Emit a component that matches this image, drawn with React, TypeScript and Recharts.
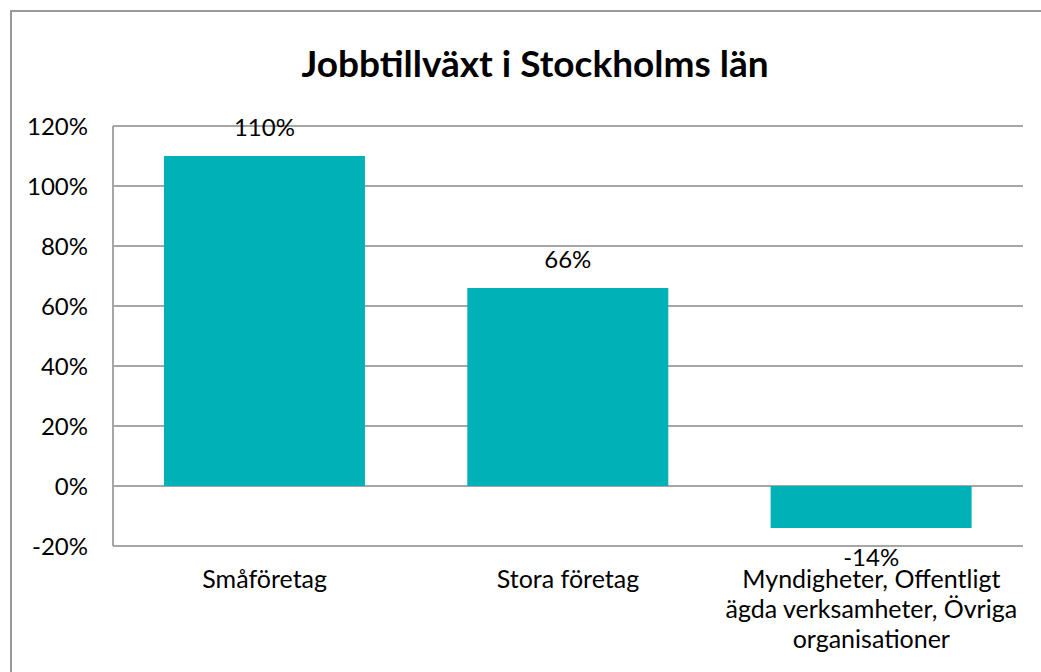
import { Bar, BarChart, CartesianGrid, LabelList, XAxis, YAxis } from "recharts";

const categories = [
  "Småföretag",
  "Stora företag",
  "Myndigheter, Offentligt ägda verksamheter, Övriga organisationer",
];
const growth = [1.1, 0.66, -0.14];
const yTicks = [-0.2, 0, 0.2, 0.4, 0.6, 0.8, 1.0, 1.2];

const data = categories.map((name, i) => ({ name, value: growth[i] }));

const BAR_COLOR = "#00B2B8";
const GRID = "#a6a6a6";
const FONT = "Lato, 'Open Sans', sans-serif";
const FS = 24;
const CAT_FS = 25;
const WRAP = 295;

const pct = (v: number) => `${Math.round(v * 100)}%`;

let ctx: CanvasRenderingContext2D | null = null;
function wrap(label: string): string[] {
  if (!ctx) ctx = document.createElement("canvas").getContext("2d");
  if (!ctx) return [label];
  ctx.font = `${CAT_FS}px Lato`;
  const lines: string[] = [];
  let cur = "";
  for (const w of label.split(" ")) {
    const next = cur ? `${cur} ${w}` : w;
    if (cur && ctx.measureText(next).width > WRAP) {
      lines.push(cur);
      cur = w;
    } else cur = next;
  }
  if (cur) lines.push(cur);
  return lines;
}

function CategoryTick(props: any) {
  const { x, y, payload } = props;
  const lines = wrap(payload.value);
  return (
    <text x={x} y={y + 42} textAnchor="middle" fontSize={CAT_FS} fontFamily={FONT} fill="#000">
      {lines.map((l, i) => (
        <tspan key={i} x={x} dy={i === 0 ? 0 : 30}>
          {l}
        </tspan>
      ))}
    </text>
  );
}

// Excel style "outside end": above positive bars, below negative ones
function ValueLabel(props: any) {
  const { x, y, width, height, value } = props;
  const top = Math.min(y, y + height);
  const bottom = Math.max(y, y + height);
  const ty = value < 0 ? bottom + 38 : top - 20;
  return (
    <text x={x + width / 2} y={ty} textAnchor="middle" fontSize={FS} fontFamily={FONT} fill="#000">
      {pct(value)}
    </text>
  );
}

export default function App() {
  return (
    <div style={{ position: "fixed", left: 0, top: 0, width: 1041, height: 672, overflow: "hidden", background: "#fff" }}>
      <div
        style={{
          position: "absolute",
          left: 10,
          top: 10,
          width: 1100,
          height: 700,
          borderLeft: "2px solid #999",
          borderTop: "2px solid #999",
        }}
      />
      <div
        style={{
          position: "absolute",
          left: 0,
          top: 41,
          width: 1070,
          textAlign: "center",
          fontFamily: FONT,
          fontWeight: 700,
          fontSize: 37,
          lineHeight: 1.2,
          color: "#000",
        }}
      >
        Jobbtillväxt i Stockholms län
      </div>
      <div style={{ position: "absolute", left: 0, top: 0 }}>
        <BarChart
          width={1041}
          height={672}
          data={data}
          margin={{ top: 126, right: 18, bottom: 26, left: 0 }}
          barCategoryGap="16.8%"
        >
          <CartesianGrid horizontal vertical={false} stroke={GRID} strokeWidth={2} />
          <XAxis
            dataKey="name"
            height={100}
            axisLine={false}
            tickLine={false}
            tickSize={0}
            tickMargin={0}
            interval={0}
            tick={<CategoryTick />}
          />
          <YAxis
            width={113}
            domain={[-0.2, 1.2]}
            ticks={yTicks}
            tickFormatter={pct}
            axisLine={{ stroke: GRID, strokeWidth: 2 }}
            tickLine={false}
            tickSize={0}
            tickMargin={25}
            tick={{ fontSize: FS, fontFamily: FONT, fill: "#000" }}
          />
          <Bar dataKey="value" fill={BAR_COLOR} isAnimationActive={false}>
            <LabelList dataKey="value" content={<ValueLabel />} />
          </Bar>
        </BarChart>
      </div>
    </div>
  );
}
